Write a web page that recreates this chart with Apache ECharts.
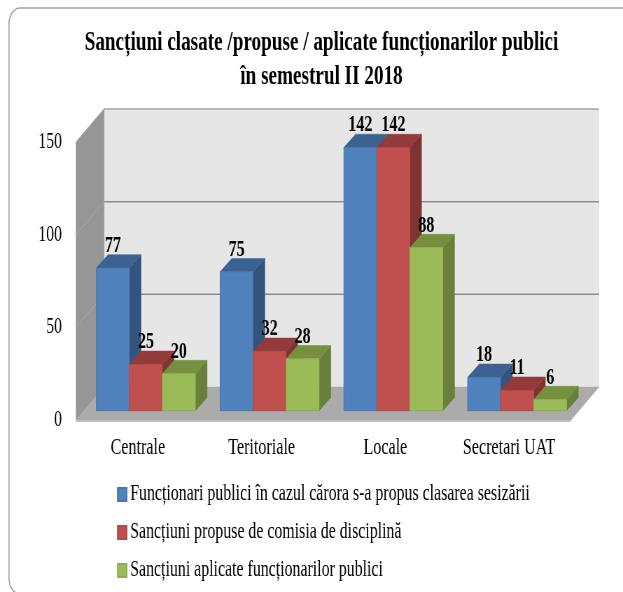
<!DOCTYPE html>
<html>
<head>
<meta charset="utf-8">
<script src="https://cdn.jsdelivr.net/npm/echarts@6/dist/echarts.min.js"></script>
<style>
html,body{margin:0;padding:0;background:#fff;overflow:hidden;width:623px;height:592px}
#chart{width:890px;height:592px;transform:scaleX(0.7);transform-origin:0 0;filter:blur(0.45px)}
</style>
</head>
<body>
<div id="chart"></div>
<script>
const categories = ['Centrale', 'Teritoriale', 'Locale', 'Secretari UAT'];
const clasate = [77, 75, 142, 18];
const propuse = [25, 32, 142, 11];
const aplicate = [20, 28, 88, 6];
const seriesNames = [
  'Funcționari publici în cazul cărora s-a propus clasarea sesizării',
  'Sancțiuni propuse de comisia de disciplină',
  'Sancțiuni aplicate funcționarilor publici'
];
const yTicks = [0, 50, 100, 150];
const titleLines = 'Sancțiuni clasate /propuse / aplicate funcționarilor publici\nîn semestrul II 2018';

const SX = 0.7;                   // horizontal squeeze of the whole picture
const CHART_W = 890;
const px = v => v / SX;           // screen px -> chart px horizontally
const FONT = '"Liberation Serif","Times New Roman",serif';
const WALL_DX = px(28), WALL_DY = 33;
const BAR_W = px(33), BAR_DX = px(11.7), BAR_DY = 13.3;
const BAR_SHIFT_X = px(8), BAR_SHIFT_Y = 9.3;

const palette = [
  {front: '#4f81bd', side: '#33547e', top: '#3c6291', edge: '#4876ad'},
  {front: '#c0504d', side: '#7f3432', top: '#923b3a', edge: '#b24a47'},
  {front: '#9bbb59', side: '#68803a', top: '#76903f', edge: '#8fad50'}
];

function poly(points, fill, z2) {
  return {type: 'polygon', shape: {points}, style: {fill, stroke: fill, lineWidth: 0.5}, z2: z2 || 0, silent: true};
}

function renderWalls(params, api) {
  const g = params.coordSys;
  const L = g.x, R = g.x + g.width, T = g.y, B = g.y + g.height;
  const dx = WALL_DX, dy = WALL_DY;
  const kids = [
    poly([[L + dx, T - dy], [R + dx, T - dy], [R + dx, B - dy], [L + dx, B - dy]], '#e6e6e6'),
    poly([[L, T], [L + dx, T - dy], [L + dx, B - dy], [L, B]], '#969696'),
    poly([[L, B], [L + dx, B - dy], [R + dx, B - dy], [R, B]], '#ababab'),
    {type: 'rect', shape: {x: L, y: B, width: g.width, height: 2}, style: {fill: '#c0c0c0'}, silent: true}
  ];
  yTicks.forEach(t => {
    const y = api.coord([0, t])[1];
    if (t > 0) {
      kids.push({type: 'line', shape: {x1: L + dx, y1: y - dy, x2: R + dx, y2: y - dy},
        style: {stroke: t === 150 ? '#a6a6a6' : '#8c8c8c', lineWidth: 1.5}, silent: true});
      kids.push({type: 'line', shape: {x1: L, y1: y, x2: L + dx, y2: y - dy},
        style: {stroke: '#a8a8a8', lineWidth: 1}, silent: true});
    }
  });
  kids.push({type: 'line', shape: {x1: L + dx, y1: T - dy, x2: L + dx, y2: B - dy},
    style: {stroke: '#a6a6a6', lineWidth: 1}, silent: true});
  return {type: 'group', children: kids};
}

function renderBar(seriesIdx) {
  return function (params, api) {
    const c = palette[seriesIdx];
    const base = api.coord([api.value(0), 0]);
    const top = api.coord([api.value(0), api.value(1)]);
    const cx = base[0] + BAR_SHIFT_X + (seriesIdx - 1) * BAR_W;
    const x0 = cx - BAR_W / 2, x1 = cx + BAR_W / 2;
    const yb = base[1] - BAR_SHIFT_Y, yt = top[1] - BAR_SHIFT_Y;
    return {type: 'group', children: [
      poly([[x1, yt], [x1 + BAR_DX, yt - BAR_DY], [x1 + BAR_DX, yb - BAR_DY], [x1, yb]], c.side),
      poly([[x0, yt], [x0 + BAR_DX, yt - BAR_DY], [x1 + BAR_DX, yt - BAR_DY], [x1, yt]], c.top),
      {type: 'rect', shape: {x: x0, y: yt, width: BAR_W, height: yb - yt},
        style: {fill: c.front, stroke: c.edge, lineWidth: 1}, silent: true},
      {type: 'text', z2: 100, silent: true,
        style: {text: String(api.value(1)), x: cx, y: yt - 22, align: 'center', verticalAlign: 'middle',
          font: 'bold 23px ' + FONT, fill: '#000'}}
    ]};
  };
}

const valueSets = [clasate, propuse, aplicate];
const chart = echarts.init(document.getElementById('chart'), null, {renderer: 'canvas'});
chart.setOption({
  animation: false,
  backgroundColor: '#fff',
  title: {
    text: titleLines, left: px(318), top: 21, textAlign: 'center',
    textStyle: {fontFamily: FONT, fontWeight: 'bold', fontSize: 27.4, lineHeight: 34, color: '#000'}
  },
  legend: {
    orient: 'vertical', left: px(117), top: 483, padding: 0, itemGap: 15, itemWidth: px(9), itemHeight: 13,
    icon: 'rect', selectedMode: false, data: seriesNames,
    textStyle: {fontFamily: FONT, fontSize: 22.7, color: '#000'}
  },
  grid: {left: px(76), right: CHART_W - px(571), top: 142, bottom: 172, containLabel: false},
  xAxis: {
    type: 'category', data: categories,
    axisLine: {show: false}, axisTick: {show: false},
    axisLabel: {fontFamily: FONT, fontSize: 23, color: '#000', margin: 16}
  },
  yAxis: {
    type: 'value', min: 0, max: 150, interval: 50,
    axisLine: {show: false}, axisTick: {show: false}, splitLine: {show: false},
    axisLabel: {fontFamily: FONT, fontSize: 22.5, color: '#000', margin: px(14)}
  },
  graphic: [{
    type: 'rect', silent: true, z: -1,
    shape: {x: px(9), y: 8, width: px(660), height: 586, r: [16, 16, 16, 16]},
    style: {fill: '#fff', stroke: '#a3a3a3', lineWidth: 1.6}
  }],
  series: [
    {type: 'custom', name: '__walls', data: [[0, 0]], encode: {x: 0, y: 1}, renderItem: renderWalls, z: 1, silent: true},
    ...seriesNames.map((name, i) => ({
      type: 'custom', name, z: 2, silent: true,
      itemStyle: {color: palette[i].front, borderColor: palette[i].edge, borderWidth: 1},
      encode: {x: 0, y: 1},
      data: valueSets[i].map((v, k) => [k, v]),
      renderItem: renderBar(i)
    }))
  ]
});
</script>
</body>
</html>
